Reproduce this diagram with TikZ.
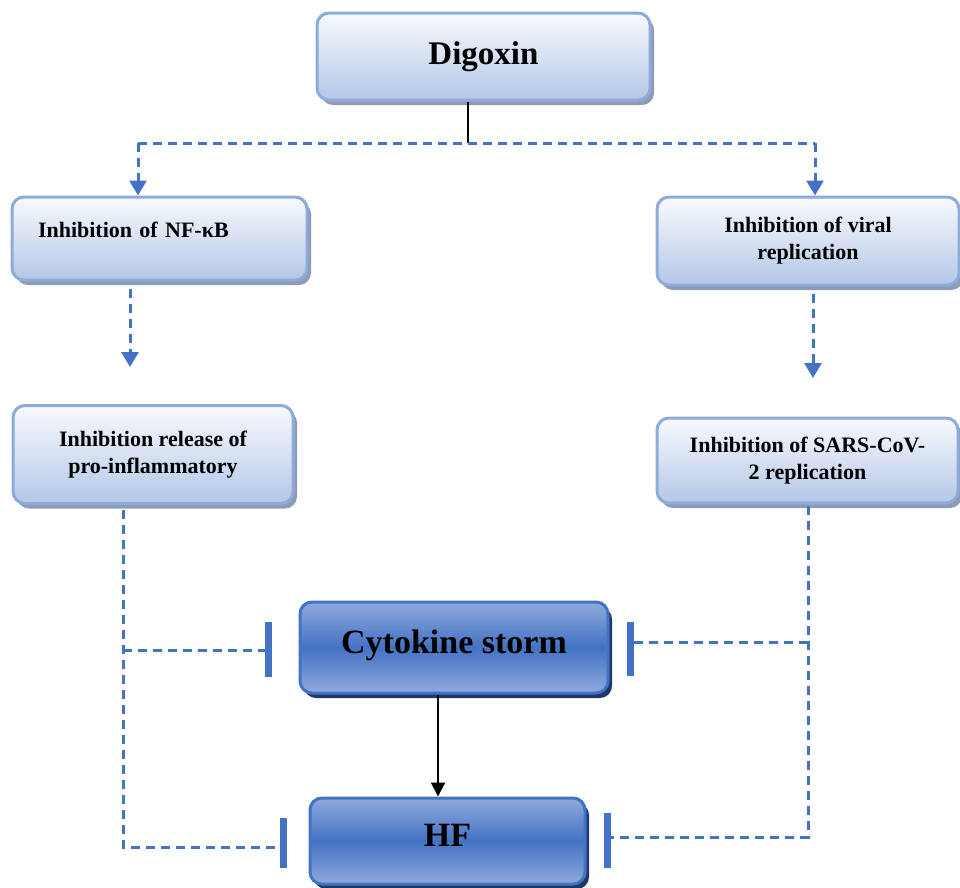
\documentclass[tikz,border=0pt]{standalone}
\usepackage{fontspec}
\setmainfont{Liberation Serif}
\usetikzlibrary{shadows,arrows.meta}
\definecolor{accent}{HTML}{4472C4}
\definecolor{lborder}{HTML}{8FAADC}
\definecolor{lbot}{HTML}{B4C7E7}
\definecolor{ltop}{HTML}{F8FAFD}
\definecolor{lshadow}{HTML}{8E9BB3}
\definecolor{dshadow}{HTML}{203864}
\definecolor{dlight}{HTML}{8FAADC}
\tikzset{
  lightbox/.style={draw=lborder, line width=3pt, rounded corners=12pt,
    top color=ltop, bottom color=lbot,
    drop shadow={shadow xshift=4pt,shadow yshift=-5pt,fill=lshadow,opacity=1},
    font=\fontsize{22}{27}\selectfont\bfseries, align=center, inner sep=0pt},
  darkbox/.style={draw=accent, line width=3pt, rounded corners=12pt,
    top color=dlight, bottom color=dlight, middle color=accent,
    drop shadow={shadow xshift=4pt,shadow yshift=-5pt,fill=dshadow,opacity=1},
    font=\fontsize{34}{38}\selectfont\bfseries, inner sep=0pt},
  dline/.style={draw=accent, line width=3pt, dash pattern=on 9pt off 6pt},
  bluetip/.style={-{Triangle[width=17pt,length=15pt]}},
  inhib/.style={draw=accent, line width=7pt},
  blackline/.style={draw=black, line width=2pt}
}
\begin{document}
\begin{tikzpicture}[x=1pt,y=-1pt]
\useasboundingbox (0,0) rectangle (960,887);
% boxes
\node[lightbox, font=\fontsize{33}{38}\selectfont\bfseries, minimum width=333pt, minimum height=87pt] (dig) at (483.5,56.5) {\raisebox{3pt}{Digoxin}};
\node[lightbox, minimum width=295pt, minimum height=83pt, text width=243pt, align=left] (nf) at (159.5,238.5) {\raisebox{17pt}{Inhibition of NF-κB}};
\node[lightbox, minimum width=302pt, minimum height=88pt] (vir) at (808,241) {Inhibition of viral\\replication};
\node[lightbox, minimum width=280pt, minimum height=98pt] (pro) at (153,454.5) {\raisebox{4pt}{\parbox{270pt}{\centering Inhibition release of\\pro-inflammatory}}};
\node[lightbox, minimum width=301pt, minimum height=85pt] (sars) at (807.5,460.5) {\raisebox{-2pt}{\parbox{290pt}{\centering Inhibition of SARS-CoV-\\2 replication}}};
\node[darkbox, minimum width=308pt, minimum height=91pt] (cyt) at (454,647.5) {\raisebox{11pt}{Cytokine storm}};
\node[darkbox, minimum width=275pt, minimum height=86pt] (hf) at (447.5,841) {\raisebox{12pt}{HF}};
% coordinates
\coordinate (split) at (468,143);
\coordinate (lsplit) at (138,143);
\coordinate (rsplit) at (815,143);
\coordinate (nfend) at (130,367);
\coordinate (virend) at (813,378);
\coordinate (lx) at (123,510);
\coordinate (lj1) at (123,650);
\coordinate (lj2) at (123,847);
\coordinate (lb1) at (268,650);
\coordinate (lb2) at (283,847);
\coordinate (rx) at (808,506);
\coordinate (rj1) at (808,642);
\coordinate (rj2) at (808,837);
\coordinate (rb1) at (630,642);
\coordinate (rb2) at (607,837);
\coordinate (ax) at (438,700);
% Digoxin connectors
\draw[blackline] (dig.south -| split) -- (split);
\draw[dline] (lsplit) -- (rsplit);
\draw[dline, bluetip] (lsplit) -- (lsplit |- nf.north);
\draw[dline, bluetip] (rsplit) -- (rsplit |- vir.north);
\draw[dline, bluetip, shorten <=7pt] (nf.south -| nfend) -- (nfend);
\draw[dline, bluetip, shorten <=7pt] (vir.south -| virend) -- (virend);
% left inhibition lines
\draw[dline] (lx) -- (lj2) -- (lb2);
\draw[dline] (lj1) -- (lb1);
\draw[inhib] (lb1) ++(0,-28) -- ++(0,55);
\draw[inhib] (lb2) ++(0,-29) -- ++(0,50);
% right inhibition lines
\draw[dline] (rx) -- (rj2) -- (rb2);
\draw[dline] (rj1) -- (rb1);
\draw[inhib] (rb1) ++(0,-20) -- ++(0,54);
\draw[inhib] (rb2) ++(0,-24) -- ++(0,55);
% cytokine -> HF
\draw[blackline, -{Triangle[width=14pt,length=14pt]}] (cyt.south -| ax) -- (ax |- hf.north);
\end{tikzpicture}
\end{document}
